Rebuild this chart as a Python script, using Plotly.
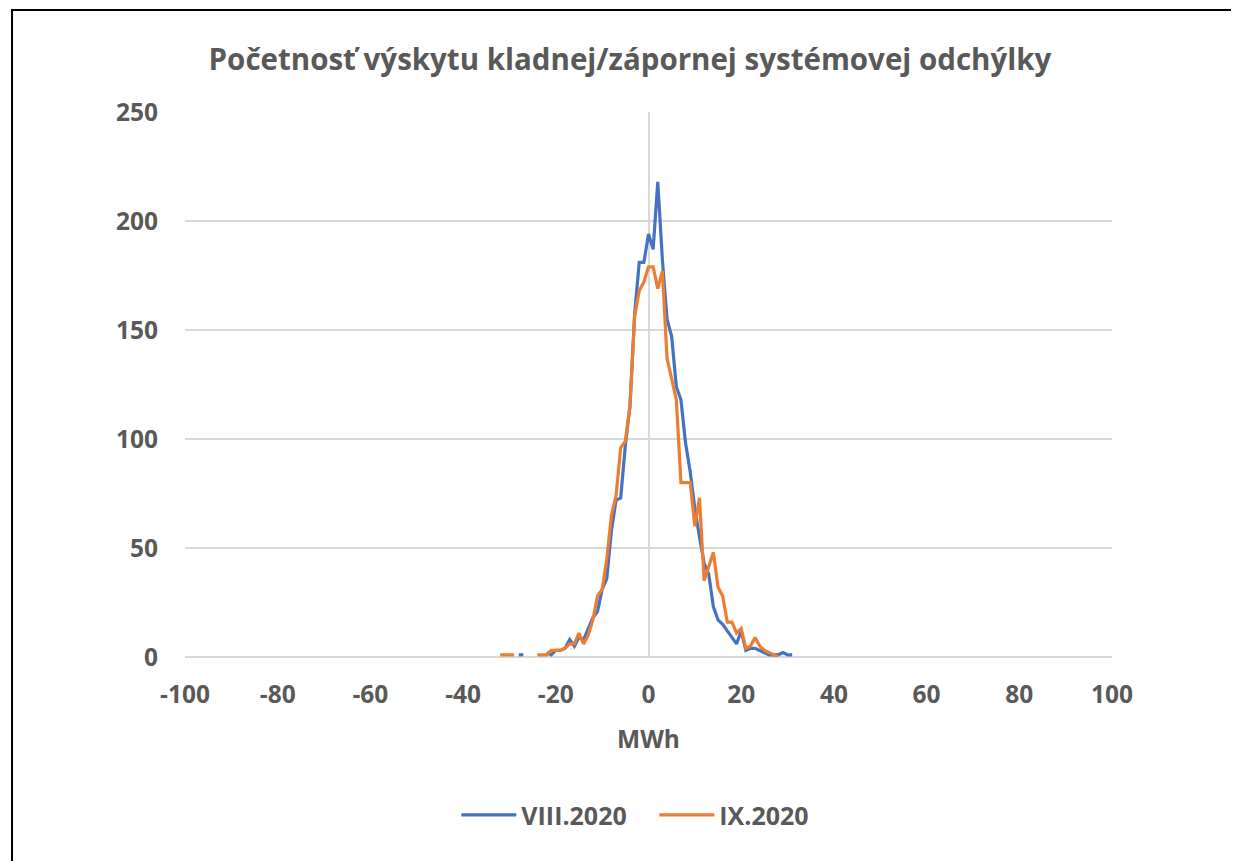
import plotly.graph_objects as go

x_vals = list(range(-32, 32))

# VIII.2020 counts per MWh bin (None = no data)
viii_2020 = {
    -28: 1, -27: 1,
    -22: 2, -21: 1, -20: 3, -19: 3, -18: 4, -17: 8, -16: 5, -15: 9, -14: 8,
    -13: 13, -12: 18, -11: 21, -10: 31, -9: 36, -8: 58, -7: 72, -6: 73,
    -5: 97, -4: 115, -3: 157, -2: 181, -1: 181, 0: 194, 1: 187, 2: 218,
    3: 182, 4: 155, 5: 147, 6: 124, 7: 118, 8: 98, 9: 85, 10: 68, 11: 55,
    12: 43, 13: 38, 14: 23, 15: 17, 16: 15, 17: 12, 18: 9, 19: 6, 20: 12,
    21: 3, 22: 4, 23: 4, 24: 3, 25: 2, 26: 1, 27: 1, 28: 1, 29: 2, 30: 1, 31: 1,
}

# IX.2020 counts per MWh bin
ix_2020 = {
    -32: 1, -31: 1, -30: 1, -29: 1,
    -24: 1, -23: 1, -22: 1, -21: 3, -20: 3, -19: 3, -18: 4, -17: 6, -16: 6,
    -15: 11, -14: 6, -13: 10, -12: 17, -11: 28, -10: 31, -9: 45, -8: 65,
    -7: 74, -6: 96, -5: 99, -4: 115, -3: 156, -2: 168, -1: 172, 0: 179,
    1: 179, 2: 169, 3: 177, 4: 137, 5: 128, 6: 118, 7: 80, 8: 80, 9: 80,
    10: 60, 11: 73, 12: 35, 13: 41, 14: 48, 15: 32, 16: 28, 17: 16, 18: 16,
    19: 11, 20: 13, 21: 4, 22: 5, 23: 9, 24: 5, 25: 3, 26: 2, 27: 1, 28: 0,
}

series_names = ["VIII.2020", "IX.2020"]
series_colors = ["#4472C4", "#ED7D31"]

y_ticks = [0, 50, 100, 150, 200, 250]
x_ticks = list(range(-100, 101, 20))

gray = "#595959"
font_family = "'Open Sans', Lato, sans-serif"

fig = go.Figure()
for name, color, data in zip(series_names, series_colors, [viii_2020, ix_2020]):
    fig.add_trace(go.Scatter(
        x=x_vals,
        y=[data.get(v) for v in x_vals],
        mode="lines",
        name=name,
        line=dict(color=color, width=3.2),
        connectgaps=False,
    ))

fig.update_layout(
    width=1239, height=861,
    margin=dict(l=177, r=135, t=104, b=212),
    paper_bgcolor="white", plot_bgcolor="white",
    title=dict(
        text="<b>Početnosť výskytu kladnej/zápornej systémovej odchýlky</b>",
        x=0.502, xanchor="center", y=0.9396, yanchor="middle",
        font=dict(family=font_family, size=29.5, color=gray),
    ),
    font=dict(family=font_family, color=gray),
    showlegend=True,
    legend=dict(
        orientation="h", x=0.2927, xanchor="left", y=-0.29, yanchor="middle",
        font=dict(family=font_family, size=25, color=gray, weight="bold"),
        itemwidth=55,
        entrywidth=128, entrywidthmode="pixels",
    ),
    shapes=[dict(
        type="rect", xref="paper", yref="paper",
        x0=-0.1866, x1=1.1338, y0=-0.6, y1=1.187,
        line=dict(color="black", width=2), fillcolor="rgba(0,0,0,0)",
        layer="below",
    )],
)

fig.update_xaxes(
    range=[-100, 100], tickvals=x_ticks, ticktext=[str(t) for t in x_ticks],
    showgrid=False, zeroline=True, zerolinecolor="#d9d9d9", zerolinewidth=2,
    showline=False, ticks="",
    tickfont=dict(family=font_family, size=24.5, color=gray, weight="bold"),
    ticklabelstandoff=20,
    title=dict(text="<b>MWh</b>", font=dict(family=font_family, size=24.5, color=gray), standoff=22),
)
fig.update_yaxes(
    range=[0, 250], tickvals=y_ticks, ticktext=[str(t) for t in y_ticks],
    showgrid=True, gridcolor="#d9d9d9", gridwidth=2,
    zeroline=True, zerolinecolor="#d9d9d9", zerolinewidth=2,
    showline=False, ticks="",
    tickfont=dict(family=font_family, size=24.5, color=gray, weight="bold"),
    ticklabelstandoff=26,
)

fig.write_html("out.html")
